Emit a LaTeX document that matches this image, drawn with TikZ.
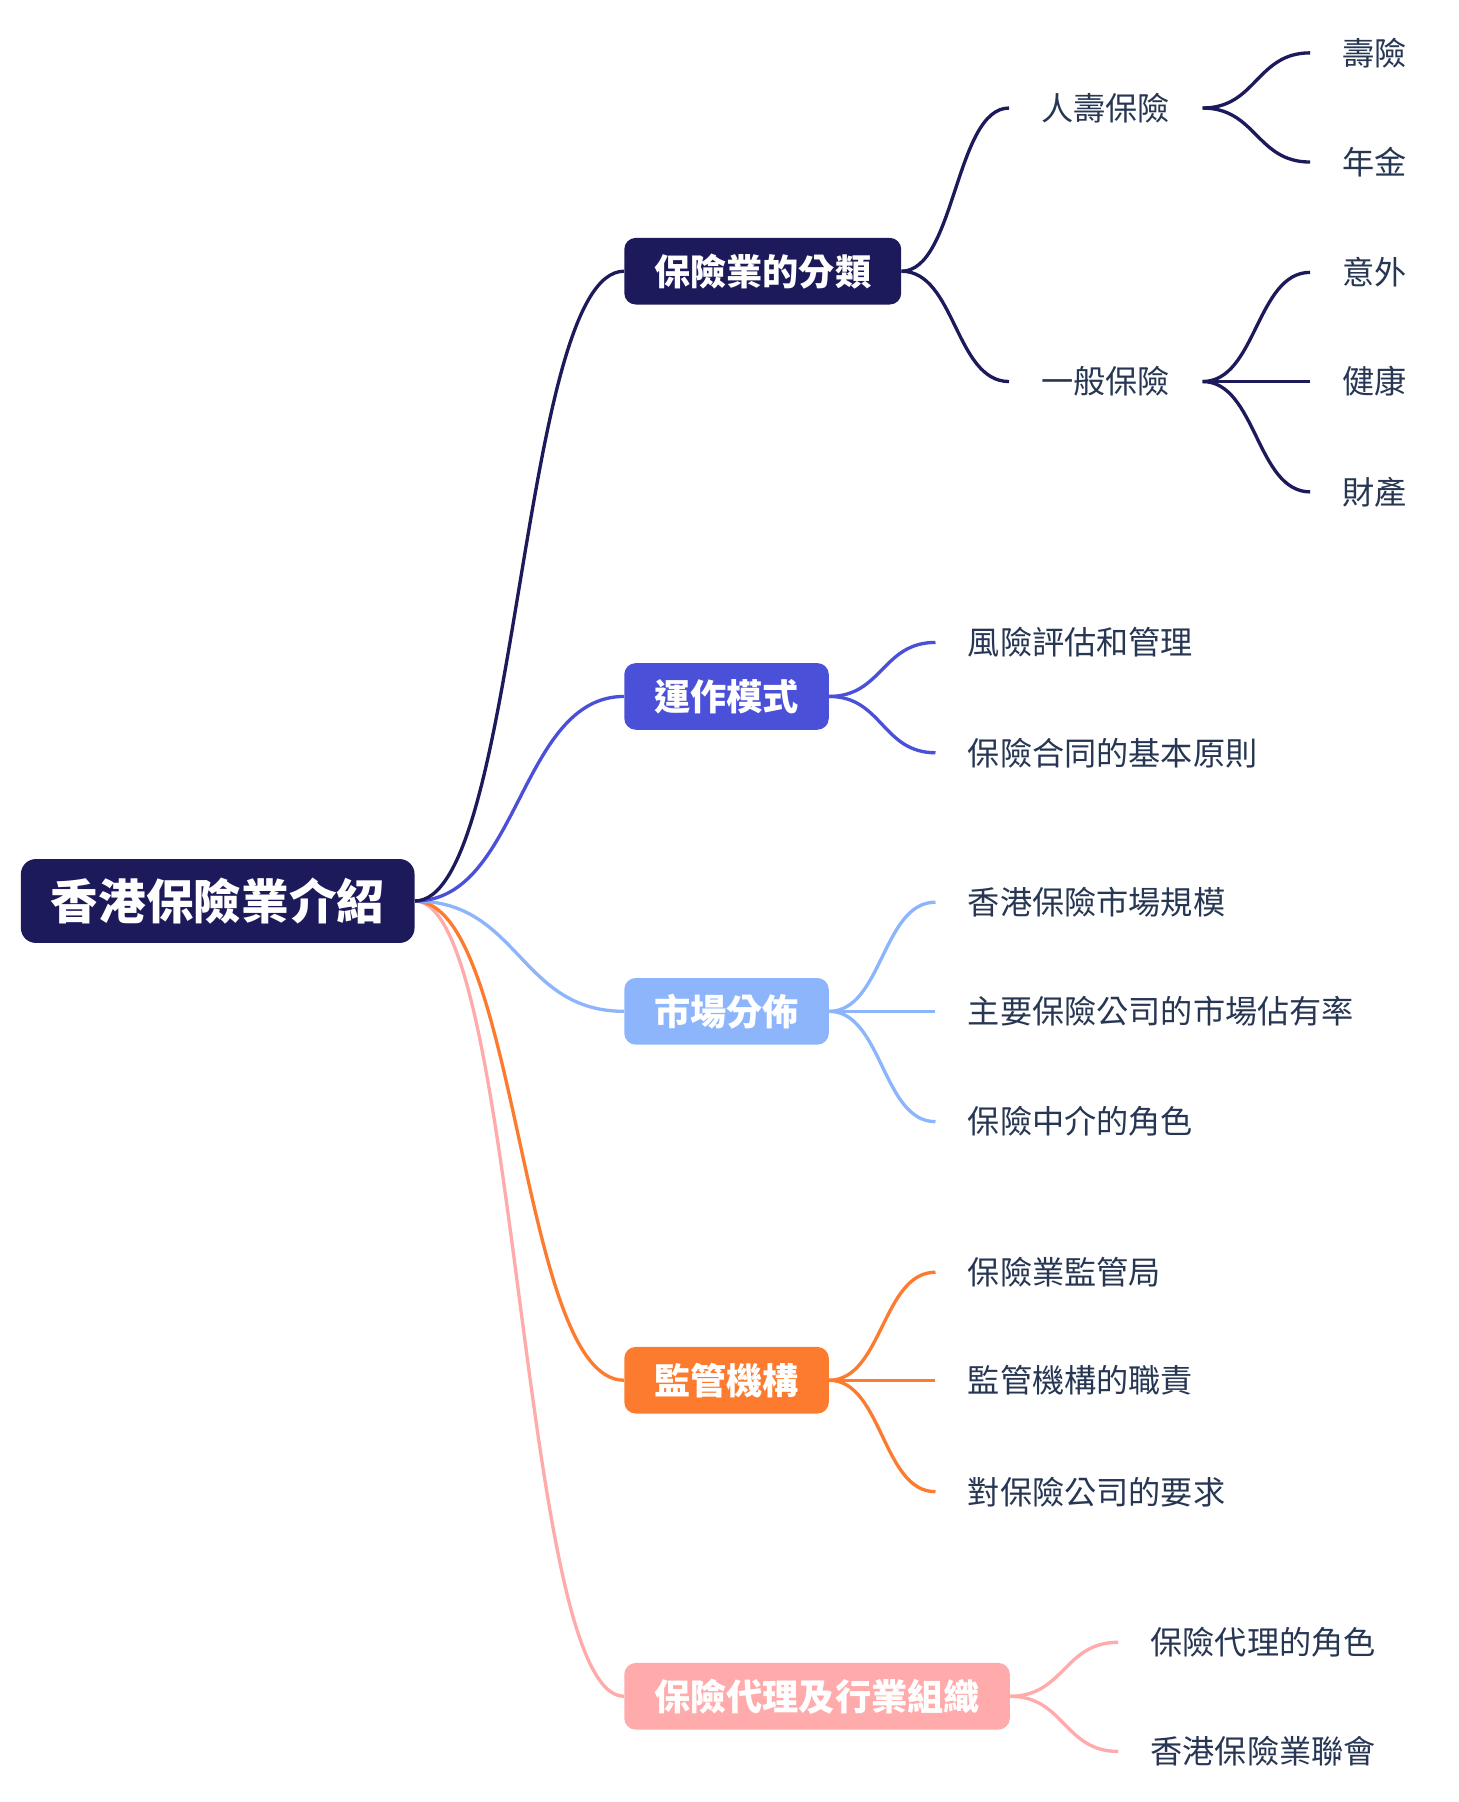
\documentclass[tikz,border=0pt]{standalone}
\usepackage{fontspec}
\setmainfont{Noto Sans CJK TC}
\usetikzlibrary{calc}
\definecolor{navy}{HTML}{1C1A5A}
\definecolor{indig}{HTML}{4A50D8}
\definecolor{lblue}{HTML}{8DB5FB}
\definecolor{orng}{HTML}{FD7B2F}
\definecolor{pnk}{HTML}{FFABAB}
\definecolor{leaftext}{HTML}{263653}
\begin{document}
\begin{tikzpicture}[x=1pt,y=-1pt,
 rootbox/.style={fill=navy, rounded corners=13pt, text=white, font=\fontsize{41.5}{45}\selectfont\bfseries, minimum height=73pt, inner xsep=26pt, anchor=west},
 branchbox/.style={fill=#1, rounded corners=10pt, text=white, font=\fontsize{31.5}{35}\selectfont\bfseries, minimum height=58pt, inner xsep=26pt, anchor=west},
 leafnode/.style={text=leaftext, font=\fontsize{28}{32}\selectfont, inner xsep=28pt, inner ysep=4pt, anchor=west},
 conn/.style={draw=#1, line width=2.9pt, to path={let \p1=(\tikztostart), \p2=(\tikztotarget) in (\p1) .. controls ({(\x1+\x2)/2},\y1) and ({(\x1+\x2)/2},\y2) .. (\p2)}},
]
\useasboundingbox (0,0) rectangle (1269,1568);

% root and branches
\node[rootbox] (root) at (18,784) {香港保險業介紹};
\node[branchbox=navy]  (b1) at (543,236)  {保險業的分類};
\node[branchbox=indig] (b2) at (543,606)  {運作模式};
\node[branchbox=lblue] (b3) at (543,880)  {市場分佈};
\node[branchbox=orng]  (b4) at (543,1201) {監管機構};
\node[branchbox=pnk]   (b5) at (543,1476) {保險代理及行業組織};

% leaves
\node[leafnode] (l11) at (878,94)  {人壽保險};
\node[leafnode] (l12) at (878,332) {一般保險};
\node[leafnode] (l111) at (1140,46)  {壽險};
\node[leafnode] (l112) at (1140,141) {年金};
\node[leafnode] (l121) at (1140,237) {意外};
\node[leafnode] (l122) at (1140,332) {健康};
\node[leafnode] (l123) at (1140,428) {財產};

\node[leafnode] (l21) at (814,559) {風險評估和管理};
\node[leafnode] (l22) at (814,655) {保險合同的基本原則};

\node[leafnode] (l31) at (814,785) {香港保險市場規模};
\node[leafnode] (l32) at (814,880) {主要保險公司的市場佔有率};
\node[leafnode] (l33) at (814,976) {保險中介的角色};

\node[leafnode] (l41) at (814,1107) {保險業監管局};
\node[leafnode] (l42) at (814,1201) {監管機構的職責};
\node[leafnode] (l43) at (814,1298) {對保險公司的要求};

\node[leafnode] (l51) at (973,1429) {保險代理的角色};
\node[leafnode] (l52) at (973,1524) {香港保險業聯會};

% connectors
\draw[conn=pnk]   (root.east) to (b5.west);
\draw[conn=orng]  (root.east) to (b4.west);
\draw[conn=lblue] (root.east) to (b3.west);
\draw[conn=indig] (root.east) to (b2.west);
\draw[conn=navy]  (root.east) to (b1.west);

\draw[conn=navy] (b1.east) to (l11.west);
\draw[conn=navy] (b1.east) to (l12.west);
\draw[conn=navy] (l11.east) to (l111.west);
\draw[conn=navy] (l11.east) to (l112.west);
\draw[conn=navy] (l12.east) to (l121.west);
\draw[conn=navy] (l12.east) to (l122.west);
\draw[conn=navy] (l12.east) to (l123.west);

\draw[conn=indig] (b2.east) to (l21.west);
\draw[conn=indig] (b2.east) to (l22.west);

\draw[conn=lblue] (b3.east) to (l31.west);
\draw[conn=lblue] (b3.east) to (l32.west);
\draw[conn=lblue] (b3.east) to (l33.west);

\draw[conn=orng] (b4.east) to (l41.west);
\draw[conn=orng] (b4.east) to (l42.west);
\draw[conn=orng] (b4.east) to (l43.west);

\draw[conn=pnk] (b5.east) to (l51.west);
\draw[conn=pnk] (b5.east) to (l52.west);
\end{tikzpicture}
\end{document}
